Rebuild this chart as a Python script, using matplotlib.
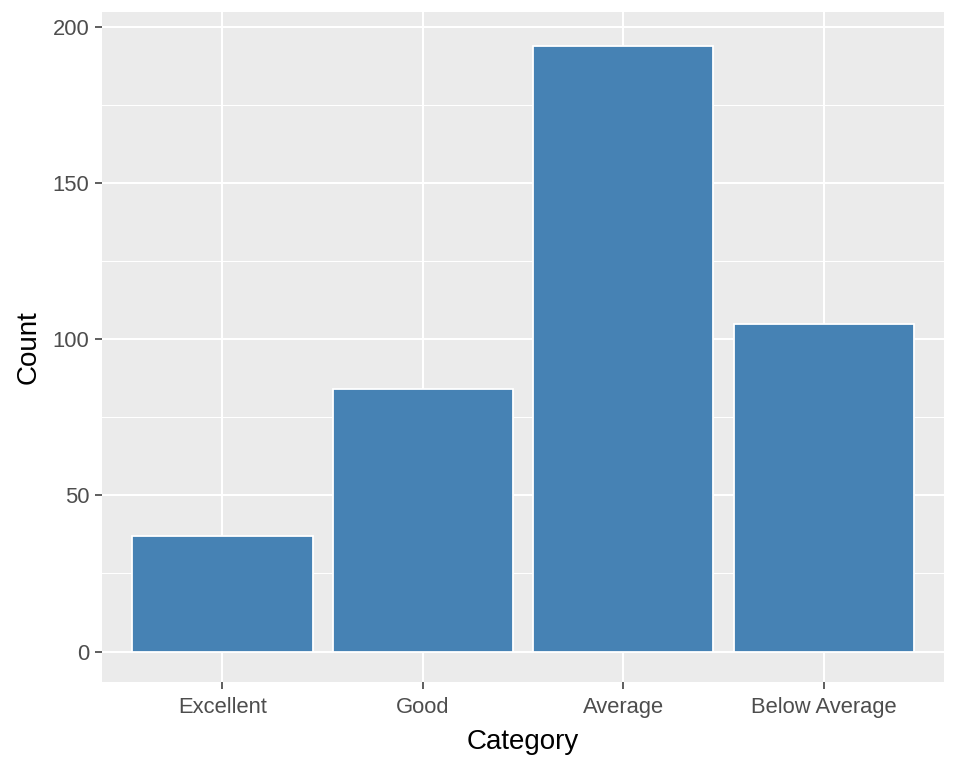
import matplotlib
matplotlib.use("Agg")
from matplotlib import pyplot as plt
import numpy as np

categories = ["Excellent", "Good", "Average", "Below Average"]
counts = [37, 84, 194, 105]
y_ticks = [0, 50, 100, 150, 200]
y_minor = [25, 75, 125, 175]

plt.rcParams['font.family'] = ['Liberation Sans', 'DejaVu Sans']

fig = plt.figure(figsize=(9.6, 7.68), dpi=100)
ax = fig.add_axes([102/960, 86/768, 842/960, 670/768])
ax.set_facecolor("#EBEBEB")

x = np.arange(1, len(categories) + 1)
ax.bar(x, counts, width=0.9, color="steelblue", edgecolor="white", linewidth=1.3, zorder=3)

ymax = 195
ax.set_xlim(0.4, len(categories) + 0.6)
ax.set_ylim(-0.05 * ymax, ymax * 1.05)

ax.set_xticks(x)
ax.set_xticklabels(categories)
ax.set_yticks(y_ticks)
ax.set_yticks(y_minor, minor=True)

ax.grid(which="major", color="white", linewidth=1.5, zorder=0)
ax.grid(which="minor", axis="y", color="white", linewidth=0.75, zorder=0)
ax.set_axisbelow(True)

for s in ax.spines.values():
    s.set_visible(False)

ax.tick_params(which="major", length=5, width=1.1, color="#333333",
               labelcolor="#4D4D4D", labelsize=15.8)
ax.tick_params(axis="x", pad=6)
ax.tick_params(axis="y", pad=4)
ax.tick_params(which="minor", length=0)

ax.set_xlabel("Category", fontsize=20, color="black", labelpad=8)
ax.set_ylabel("Count", fontsize=20, color="black", labelpad=8)

fig.savefig("out.png", dpi=100)
